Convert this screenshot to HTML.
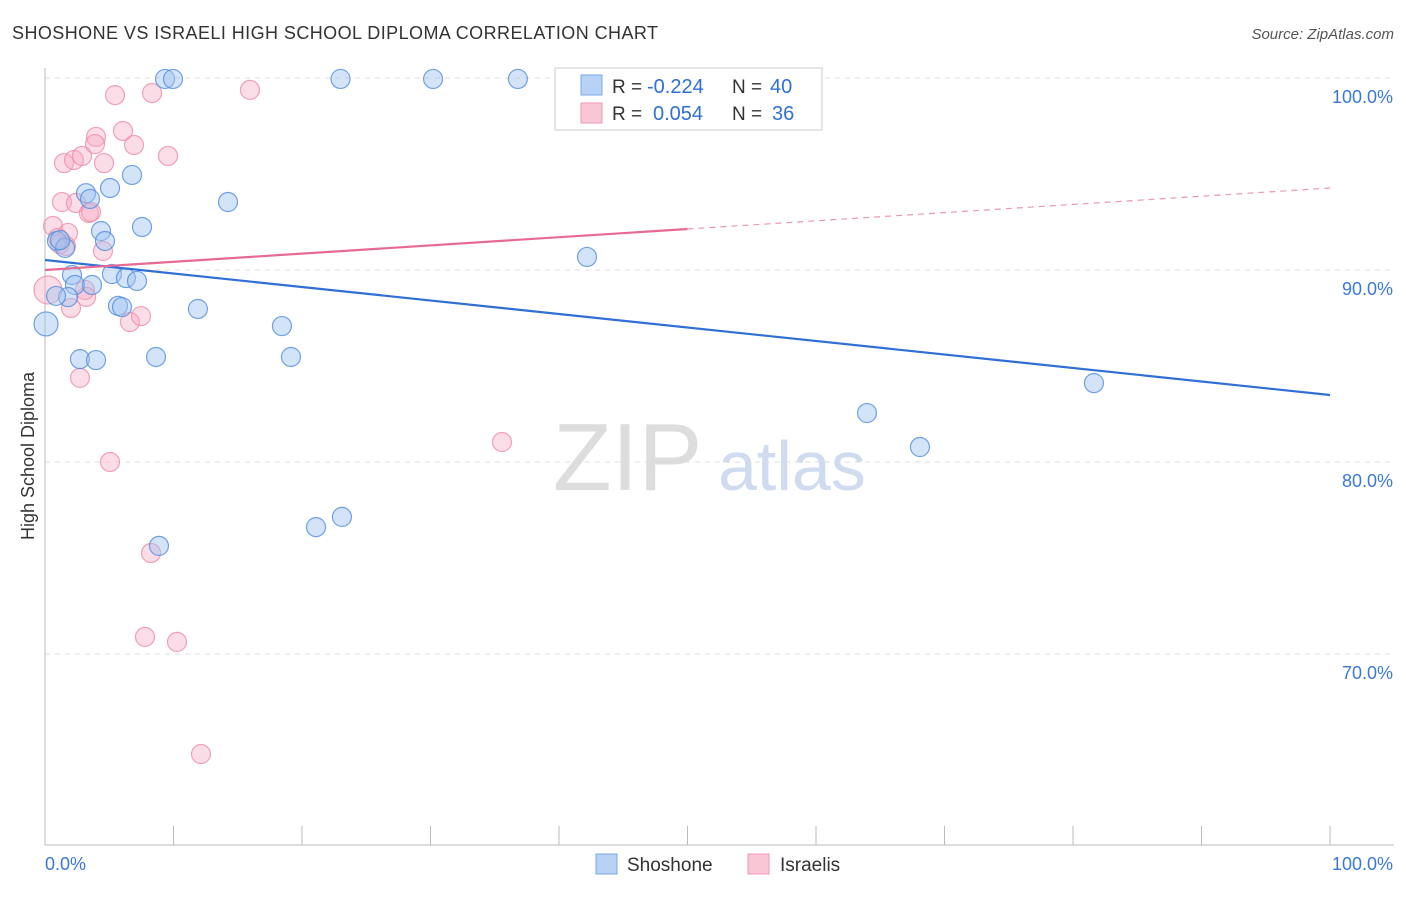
<!DOCTYPE html>
<html><head><meta charset="utf-8"><style>
body{margin:0;background:#fff;font-family:"Liberation Sans",sans-serif;}
svg text{font-family:"Liberation Sans",sans-serif;}
</style></head><body>
<svg id="chart" width="1406" height="892" xmlns="http://www.w3.org/2000/svg">
<text x="12" y="39" font-size="18" fill="#333" textLength="646">SHOSHONE VS ISRAELI HIGH SCHOOL DIPLOMA CORRELATION CHART</text>
<text x="1394" y="39" font-size="15" fill="#555" font-style="italic" text-anchor="end">Source: ZipAtlas.com</text>
<text x="34" y="456" font-size="18" fill="#333" transform="rotate(-90 34 456)" text-anchor="middle">High School Diploma</text>
<text x="553" y="490" font-size="96" fill="#ddd" font-family="Liberation Serif">ZIP</text>
<text x="718" y="490" font-size="70" fill="#cfdcf0">atlas</text>
<g id="grid"></g><g id="axes"></g><g id="pts"></g><g id="trend"></g>
<g>
<rect x="555" y="68" width="267" height="62" fill="#fff" stroke="#ccc"/>
<rect x="581" y="75" width="21" height="20" fill="#b7d2f5" stroke="#7aa8e8"/>
<rect x="581" y="103" width="21" height="20" fill="#f9c6d6" stroke="#ee9ab5"/>
<text x="612" y="93" font-size="19" fill="#333">R =</text>
<text x="647" y="93" font-size="20" fill="#2f6fd6">-0.224</text>
<text x="732" y="93" font-size="19" fill="#333">N =</text>
<text x="770" y="93" font-size="20" fill="#2f6fd6">40</text>
<text x="612" y="120" font-size="19" fill="#333">R =</text>
<text x="653" y="120" font-size="20" fill="#2f6fd6">0.054</text>
<text x="732" y="120" font-size="19" fill="#333">N =</text>
<text x="772" y="120" font-size="20" fill="#2f6fd6">36</text>
</g>
<g>
<rect x="596" y="854" width="21" height="20" fill="#b7d2f5" stroke="#7aa8e8"/>
<text x="627" y="871" font-size="19" fill="#333">Shoshone</text>
<rect x="748" y="854" width="21" height="20" fill="#f9c6d6" stroke="#ee9ab5"/>
<text x="780" y="871" font-size="19" fill="#333">Israelis</text>
</g>
</svg>
<script>
const yTicks=[100,90,80,70];
const yTickLabels=["100.0%","90.0%","80.0%","70.0%"];
const xTickLabels=["0.0%","100.0%"];
const shoX=[9.34,9.96,23.0,30.2,36.8,3.19,3.5,5.06,6.77,14.24,7.55,0.93,1.56,4.36,4.67,2.1,5.21,6.3,7.16,2.33,3.66,1.79,0.86,5.68,5.99,11.9,18.44,0.08,2.72,3.97,8.64,19.14,42.18,81.63,63.97,68.09,23.11,21.09,8.87,1.17];
const shoY=[99.95,99.95,99.95,99.95,99.95,94.0,93.7,94.27,94.95,93.54,92.24,91.51,91.15,92.03,91.51,89.74,89.79,89.58,89.43,89.22,89.22,88.59,88.65,88.13,88.07,87.97,87.08,87.19,85.36,85.31,85.47,85.47,90.68,84.11,82.55,80.78,77.14,76.61,75.63,91.56];
const shoBig=[27];
const isrX=[5.45,8.33,15.95,45.53,3.97,6.07,3.89,6.93,9.57,1.48,2.26,2.88,4.59,1.32,2.41,3.42,3.58,0.62,1.79,1.17,4.51,0.23,3.11,2.02,6.61,7.47,2.72,5.06,8.25,7.78,10.27,12.14,35.56,1.01,1.63,3.2];
const isrY=[99.11,99.22,99.38,99.9,96.93,97.24,96.56,96.51,95.94,95.57,95.73,95.94,95.57,93.54,93.49,92.97,93.02,92.29,91.93,91.35,90.99,88.96,88.96,88.02,87.29,87.6,84.38,80.0,75.26,70.89,70.63,64.79,81.04,91.67,91.25,88.6];
const isrBig=[21];
const shoTrend=[90.52,83.49];
const isrTrend=[90.0,94.27];
const isrSolidEnd=50;
const NS="http://www.w3.org/2000/svg";
const X=v=>45+v*12.85, Y=v=>78+(100-v)*19.2;
function mk(t,a,p){const e=document.createElementNS(NS,t);for(const k in a)e.setAttribute(k,a[k]);p.appendChild(e);return e;}
const grid=document.getElementById('grid'),axes=document.getElementById('axes'),pts=document.getElementById('pts'),tr=document.getElementById('trend');
yTicks.forEach((t,i)=>{
 const l=mk('line',{x1:45,x2:1394,y1:Y(t),y2:Y(t),stroke:'#ddd','stroke-dasharray':'5,5'},grid);
 
 
 const tx=mk('text',{x:1393,y:Y(t)+25,'font-size':18,fill:'#3a78d8','text-anchor':'end'},grid);
 tx.textContent=yTickLabels[i];
 
 
});
mk('line',{x1:45,x2:45,y1:68,y2:845,stroke:'#bbb'},axes);
mk('line',{x1:45,x2:1394,y1:845,y2:845,stroke:'#bbb'},axes);
for(let i=0;i<=10;i++){const t=mk('line',{x1:X(i*10),x2:X(i*10),y1:826,y2:845,stroke:'#bbb'},axes);
 
 }
const a0=mk('text',{x:45,y:870,'font-size':18,fill:'#3a78d8'},axes);a0.textContent=xTickLabels[0];


const a1=mk('text',{x:1393,y:870,'font-size':18,fill:'#3a78d8','text-anchor':'end'},axes);a1.textContent=xTickLabels[1];


isrX.forEach((x,i)=>{const c=mk('circle',{cx:X(x),cy:Y(isrY[i]),r:isrBig.includes(i)?14:9.5,fill:'rgba(246,170,195,0.4)',stroke:'rgba(238,140,170,0.8)','stroke-width':1.2},pts);
 
 });
shoX.forEach((x,i)=>{const c=mk('circle',{cx:X(x),cy:Y(shoY[i]),r:shoBig.includes(i)?12:9.5,fill:'rgba(160,195,240,0.45)',stroke:'rgba(80,140,220,0.8)','stroke-width':1.2},pts);
 
 });
const sl=mk('line',{x1:X(0),y1:Y(shoTrend[0]),x2:X(100),y2:Y(shoTrend[1]),stroke:'#2f6fd6','stroke-width':2.2},tr);


const mid=isrTrend[0]+(isrTrend[1]-isrTrend[0])*isrSolidEnd/100;
const pl=mk('line',{x1:X(0),y1:Y(isrTrend[0]),x2:X(isrSolidEnd),y2:Y(mid),stroke:'#e66a93','stroke-width':2.2},tr);


const pd=mk('line',{x1:X(isrSolidEnd),y1:Y(mid),x2:X(100),y2:Y(isrTrend[1]),stroke:'#e89ab4','stroke-width':1.2,'stroke-dasharray':'6,5'},tr);


</script>
</body></html>
